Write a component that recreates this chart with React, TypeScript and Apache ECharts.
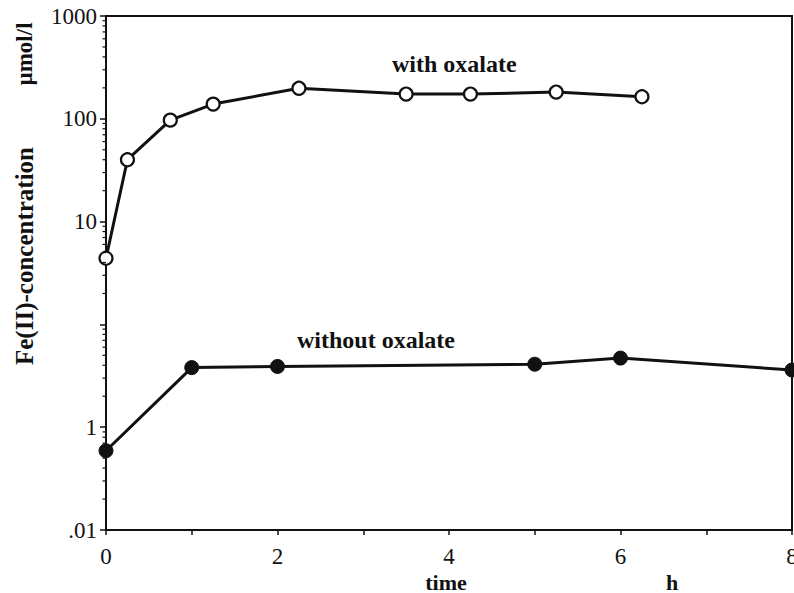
import React, { useEffect, useRef } from "react";
import * as echarts from "echarts";

// ---- data ----
const withOxalateTime = [0, 0.25, 0.75, 1.25, 2.25, 3.5, 4.25, 5.25, 6.25];
const withOxalateConc = [4.4, 40, 97, 139, 198, 174, 174, 182, 164];

const withoutOxalateTime = [0, 1, 2, 5, 6, 8];
const withoutOxalateConc = [0.059, 0.38, 0.39, 0.41, 0.47, 0.36];

// y tick labels as printed in the figure (log decades from 1000 down to 0.01)
const yTickExponents = [3, 2, 1, 0, -1, -2];
const yTickLabels = ["1000", "100", "10", "", "1", ".01"];
const yMinorMultipliers = [2, 3, 4, 5, 6, 7, 8, 9];
const yDecades = [0.01, 0.1, 1, 10, 100];

const xTickLabels = ["0", "2", "4", "6", "8"];

const SERIF = "Liberation Serif";
const INK = "#111";

export default function App() {
  const ref = useRef<HTMLDivElement>(null);

  useEffect(() => {
    if (!ref.current) return;
    const chart = echarts.init(ref.current, undefined, { renderer: "svg" });

    // minor log-tick positions (2..9 within each decade), drawn at x = 0
    const minorTickData: number[][] = [];
    yDecades.forEach((d) => {
      yMinorMultipliers.forEach((m) => {
        minorTickData.push([0, m * d]);
      });
    });

    const option: any = {
      animation: false,
      backgroundColor: "#fff",
      textStyle: { fontFamily: SERIF },
      grid: {
        left: 106,
        right: 2,
        top: 16,
        bottom: 63,
        outerBoundsMode: "none",
        containLabel: false,
        show: true,
        borderColor: INK,
        borderWidth: 2,
        backgroundColor: "transparent",
      },
      xAxis: {
        type: "value",
        min: 0,
        max: 8,
        interval: 1,
        axisLine: { show: true, onZero: false, lineStyle: { color: INK, width: 2 } },
        axisTick: { show: true, inside: false, length: 5, lineStyle: { color: INK, width: 1.5 } },
        splitLine: { show: false },
        axisLabel: {
          color: INK,
          fontFamily: SERIF,
          fontSize: 23,
          margin: 15,
          hideOverlap: false,
          formatter: (v: number) => {
            const s = String(Math.round(v));
            return xTickLabels.indexOf(s) >= 0 ? s : "";
          },
        },
      },
      yAxis: {
        type: "log",
        min: 0.01,
        max: 1000,
        logBase: 10,
        axisLine: { show: true, onZero: false, lineStyle: { color: INK, width: 2 } },
        axisTick: { show: true, inside: false, length: 6, lineStyle: { color: INK, width: 1.5 } },
        splitLine: { show: false },
        minorTick: { show: false },
        axisLabel: {
          color: INK,
          fontFamily: SERIF,
          fontSize: 23,
          margin: 9,
          formatter: (v: number) => {
            const e = Math.round(Math.log10(v));
            const i = yTickExponents.indexOf(e);
            return i >= 0 ? yTickLabels[i] : "";
          },
        },
      },
      series: [
        {
          name: "minor ticks",
          type: "custom",
          silent: true,
          clip: false,
          z: 5,
          data: minorTickData,
          encode: { x: 0, y: 1 },
          renderItem: (params: any, api: any) => {
            const pt = api.coord([api.value(0), api.value(1)]);
            return {
              type: "line",
              shape: { x1: pt[0] - 3.5, y1: pt[1], x2: pt[0], y2: pt[1] },
              style: { stroke: INK, lineWidth: 1.2 },
            };
          },
        },
        {
          name: "with oxalate",
          type: "line",
          data: withOxalateTime.map((t, i) => [t, withOxalateConc[i]]),
          symbol: "circle",
          symbolSize: 13,
          showAllSymbol: true,
          lineStyle: { color: INK, width: 3 },
          itemStyle: { color: "#fff", borderColor: INK, borderWidth: 2.2 },
          z: 3,
        },
        {
          name: "without oxalate",
          type: "line",
          data: withoutOxalateTime.map((t, i) => [t, withoutOxalateConc[i]]),
          symbol: "circle",
          symbolSize: 14,
          showAllSymbol: true,
          lineStyle: { color: INK, width: 3 },
          itemStyle: { color: INK, borderColor: INK, borderWidth: 1 },
          z: 3,
        },
      ],
      graphic: [
        {
          type: "text",
          x: 392,
          y: 64,
          style: {
            text: "with oxalate",
            font: `bold 24px '${SERIF}'`,
            fill: INK,
            textAlign: "left",
            textVerticalAlign: "middle",
          },
        },
        {
          type: "text",
          x: 297,
          y: 340,
          style: {
            text: "without oxalate",
            font: `bold 24px '${SERIF}'`,
            fill: INK,
            textAlign: "left",
            textVerticalAlign: "middle",
          },
        },
        {
          type: "text",
          x: 446,
          y: 582,
          style: {
            text: "time",
            font: `bold 22px '${SERIF}'`,
            fill: INK,
            textAlign: "center",
            textVerticalAlign: "middle",
          },
        },
        {
          type: "text",
          x: 672,
          y: 582,
          style: {
            text: "h",
            font: `bold 22px '${SERIF}'`,
            fill: INK,
            textAlign: "center",
            textVerticalAlign: "middle",
          },
        },
        {
          type: "text",
          x: 24,
          y: 54,
          rotation: Math.PI / 2,
          style: {
            text: "µmol/l",
            font: `bold 23px '${SERIF}'`,
            fill: INK,
            textAlign: "center",
            textVerticalAlign: "middle",
          },
        },
        {
          type: "text",
          x: 24,
          y: 256,
          rotation: Math.PI / 2,
          style: {
            text: "Fe(II)-concentration",
            font: `bold 25px '${SERIF}'`,
            fill: INK,
            textAlign: "center",
            textVerticalAlign: "middle",
          },
        },
      ],
    };

    chart.setOption(option);
    return () => chart.dispose();
  }, []);

  return (
    <div
      ref={ref}
      style={{ position: "fixed", left: 0, top: 0, width: 794, height: 593 }}
    />
  );
}
